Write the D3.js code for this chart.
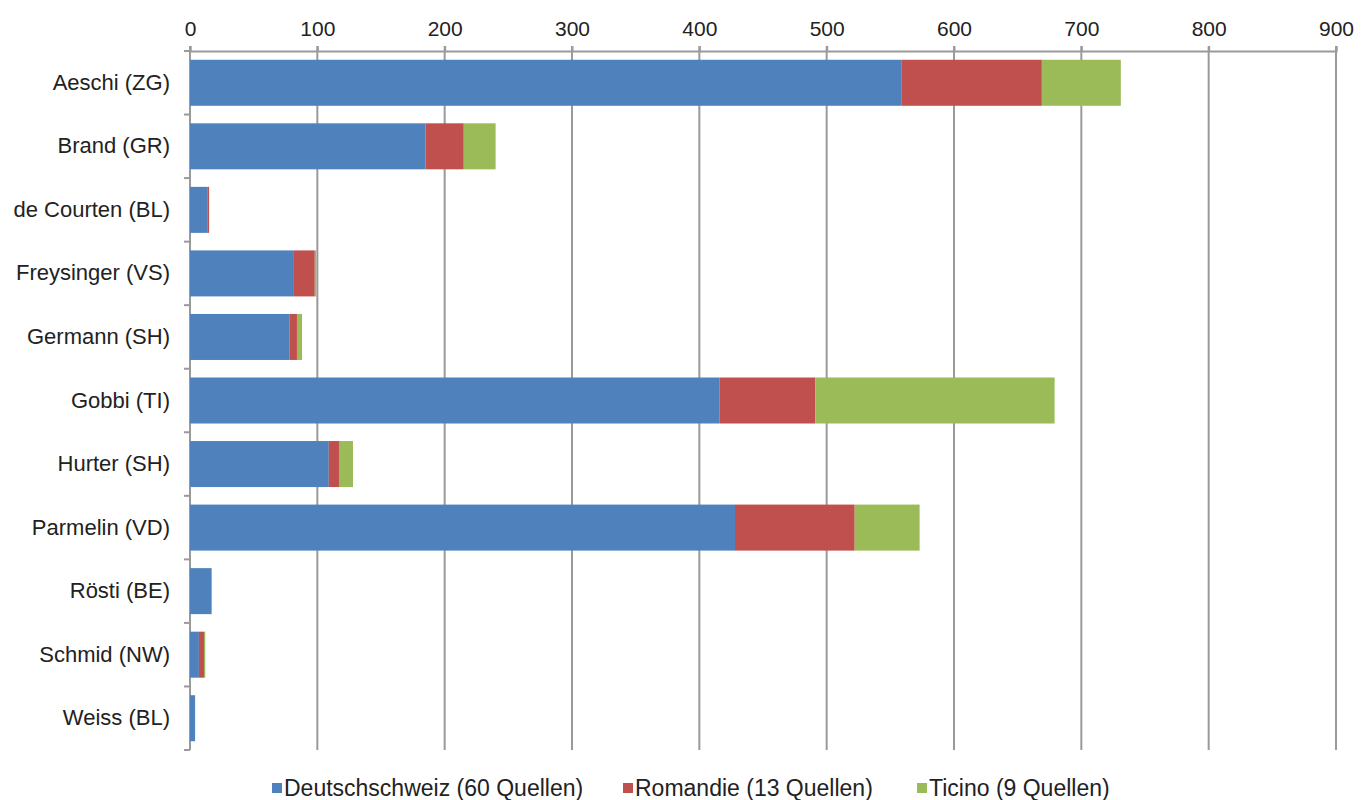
<!DOCTYPE html>
<html>
<head>
<meta charset="utf-8">
<script src="https://cdn.jsdelivr.net/npm/d3@7"></script>
<style>
  body { margin: 0; background: #fff; }
  svg text { font-family: "Liberation Sans", Arial, sans-serif; fill: #222; }
</style>
</head>
<body>
<div id="chart"></div>
<script>
const names = ['Aeschi (ZG)', 'Brand (GR)', 'de Courten (BL)', 'Freysinger (VS)', 'Germann (SH)',
  'Gobbi (TI)', 'Hurter (SH)', 'Parmelin (VD)', 'Rösti (BE)', 'Schmid (NW)', 'Weiss (BL)']
const deutschschweiz = [559, 185, 14, 81, 78, 416, 109, 428, 17, 7, 4]
const romandie = [110, 30, 1, 17, 6, 75, 8, 94, 0, 4, 0]
const ticino = [62, 25, 0, 1, 4, 188, 11, 51, 0, 1, 0]
const seriesNames = ['Deutschschweiz (60 Quellen)', 'Romandie (13 Quellen)', 'Ticino (9 Quellen)']
const colors = ['#4F81BD', '#C0504D', '#9BBB59']
const xTicks = [0, 100, 200, 300, 400, 500, 600, 700, 800, 900]

const width = 1371, height = 800
const plotLeft = 190, plotRight = 1336, plotTop = 51, plotBottom = 750

const rows = names.map((n, i) => ({ name: n, d: deutschschweiz[i], r: romandie[i], t: ticino[i] }))
const stack = d3.stack().keys(['d', 'r', 't'])(rows)

let svg = d3.select('#chart')
  .append('svg')
  .attr('width', width)
  .attr('height', height)

let xScale = d3.scaleLinear().domain([0, 900]).range([plotLeft, plotRight])
let yScale = d3.scaleBand().domain(names).range([plotTop, plotBottom])
  .paddingInner(0.276).paddingOuter(0.138)

// vertical gridlines
svg.append('g')
  .selectAll('line')
  .data(xTicks)
  .join('line')
  .attr('x1', d => xScale(d)).attr('x2', d => xScale(d))
  .attr('y1', plotTop - 5).attr('y2', plotBottom)
  .attr('stroke', '#9a9a9a')
  .attr('stroke-width', 2)

// top axis
let xAxis = svg.append('g')
  .attr('transform', `translate(0,${plotTop})`)
  .call(d3.axisTop(xScale).tickValues(xTicks).tickSize(5).tickPadding(10))
xAxis.select('.domain').attr('stroke', '#9a9a9a').attr('stroke-width', 2)
xAxis.selectAll('.tick line').attr('stroke', '#9a9a9a').attr('stroke-width', 2)
xAxis.selectAll('text').attr('font-size', 21).style('fill', '#222')

// bars
svg.append('g')
  .selectAll('g')
  .data(stack)
  .join('g')
  .attr('fill', (d, i) => colors[i])
  .selectAll('rect')
  .data(d => d)
  .join('rect')
  .attr('x', d => xScale(d[0]))
  .attr('y', d => yScale(d.data.name))
  .attr('width', d => xScale(d[1]) - xScale(d[0]))
  .attr('height', yScale.bandwidth())

// left axis ticks between categories
const bounds = d3.range(names.length + 1).map(i => plotTop + i * yScale.step())
svg.append('g')
  .selectAll('line')
  .data(bounds)
  .join('line')
  .attr('x1', plotLeft - 6).attr('x2', plotLeft)
  .attr('y1', d => d).attr('y2', d => d)
  .attr('stroke', '#9a9a9a')
  .attr('stroke-width', 2)

// category labels
let yAxis = svg.append('g')
  .attr('transform', `translate(${plotLeft},0)`)
  .call(d3.axisLeft(yScale).tickSize(0).tickPadding(20))
yAxis.select('.domain').remove()
yAxis.selectAll('text').attr('font-size', 22).style('fill', '#222')

// legend
const legendX = [272, 623, 917]
let legend = svg.append('g')
  .selectAll('g')
  .data(seriesNames)
  .join('g')
  .attr('transform', (d, i) => `translate(${legendX[i]},788)`)
legend.append('rect')
  .attr('x', 0).attr('y', -5)
  .attr('width', 10).attr('height', 10)
  .attr('fill', (d, i) => colors[i])
legend.append('text')
  .attr('x', 12)
  .attr('dy', '0.35em')
  .attr('font-size', 23)
  .text(d => d)
</script>
</body>
</html>
